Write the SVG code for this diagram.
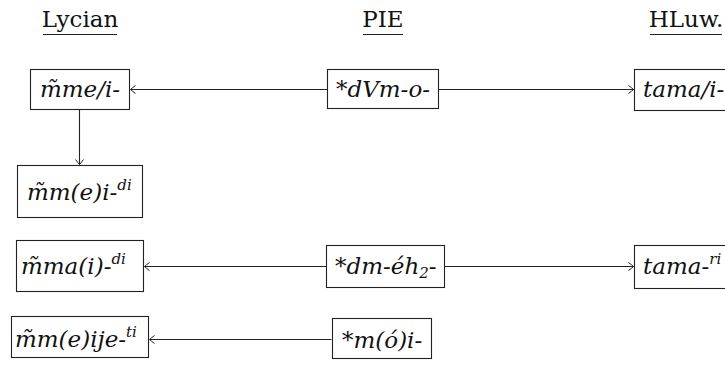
<svg xmlns="http://www.w3.org/2000/svg" width="725" height="367" viewBox="0 0 725 367">
<style>
text{font-family:"DejaVu Serif",serif;fill:#111;}
.hd{font-size:23px;}
.lb{font-style:italic;font-size:23px;}
.sup{font-size:15px;}
.box{fill:#fff;stroke:#222;stroke-width:1.1;}
.ul{stroke:#222;stroke-width:1.2;}
.cn{stroke:#222;stroke-width:1.1;fill:none;marker-end:url(#ah);}
</style>
<defs>
<marker id="ah" viewBox="-6 -5 8 10" refX="0" refY="0" markerWidth="8" markerHeight="10" markerUnits="userSpaceOnUse" orient="auto">
<path d="M-5,-4 Q-1,-1 0,0 Q-1,1 -5,4" fill="none" stroke="#222" stroke-width="1"/>
</marker>
</defs>
<g id="headers">
<text class="hd" x="80" y="27" text-anchor="middle">Lycian</text>
<line class="ul" x1="43" y1="34.5" x2="117" y2="34.5"/>
<text class="hd" x="383" y="27" text-anchor="middle">PIE</text>
<line class="ul" x1="363" y1="34.5" x2="403" y2="34.5"/>
<text class="hd" x="686" y="27" text-anchor="middle">HLuw.</text>
<line class="ul" x1="650" y1="34.5" x2="722" y2="34.5"/>
</g>
<g id="connectors">
<line class="cn" x1="327" y1="89.5" x2="130.5" y2="89.5"/>
<line class="cn" x1="438.5" y1="89.5" x2="633.5" y2="89.5"/>
<line class="cn" x1="79.5" y1="110" x2="79.5" y2="164.5"/>
<line class="cn" x1="326" y1="266.5" x2="144.5" y2="266.5"/>
<line class="cn" x1="445" y1="266.5" x2="633.5" y2="266.5"/>
<line class="cn" x1="331.5" y1="339.5" x2="149.5" y2="339.5"/>
</g>
<g id="lyc1">
<rect class="box" x="30.5" y="69.5" width="99" height="40"/>
<text class="lb" x="80" y="97" text-anchor="middle">m̃me/i-</text>
</g>
<g id="pie1">
<rect class="box" x="327.5" y="69.5" width="111" height="39"/>
<text class="lb" x="383" y="97" text-anchor="middle">*dVm-o-</text>
</g>
<g id="hluw1">
<rect class="box" x="634.5" y="69.5" width="100" height="41"/>
<text class="lb" x="643" y="97">tama/i-</text>
</g>
<g id="lyc2">
<rect class="box" x="17.5" y="165.5" width="125" height="52"/>
<text class="lb" x="27" y="200">m̃m(e)i-<tspan class="sup" dy="-10">di</tspan></text>
</g>
<g id="lyc3">
<rect class="box" x="16.5" y="240.5" width="127" height="51"/>
<text class="lb" x="21" y="274">m̃ma(i)-<tspan class="sup" dy="-10">di</tspan></text>
</g>
<g id="pie3">
<rect class="box" x="326.5" y="245.5" width="118" height="42"/>
<text class="lb" x="335" y="274">*dm-éh<tspan class="sup" dy="4">2</tspan><tspan dy="-4">-</tspan></text>
</g>
<g id="hluw3">
<rect class="box" x="634.5" y="245.5" width="100" height="43"/>
<text class="lb" x="643" y="274">tama-<tspan class="sup" dy="-10">ri</tspan></text>
</g>
<g id="lyc4">
<rect class="box" x="11.5" y="316.5" width="137" height="41"/>
<text class="lb" x="15" y="347">m̃m(e)ije-<tspan class="sup" dy="-10">ti</tspan></text>
</g>
<g id="pie4">
<rect class="box" x="332.5" y="318.5" width="99" height="40"/>
<text class="lb" x="342" y="348">*m(ó)i-</text>
</g>
</svg>
